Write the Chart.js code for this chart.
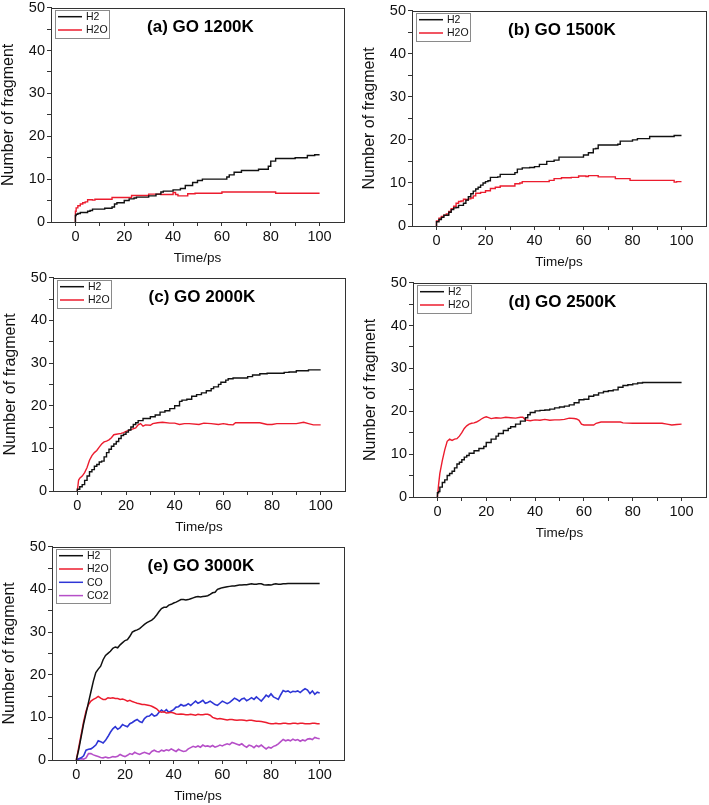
<!DOCTYPE html>
<html><head><meta charset="utf-8">
<script src="https://cdn.jsdelivr.net/npm/chart.js@4.4.1/dist/chart.umd.min.js"></script>
<style>
html,body{margin:0;padding:0;background:#fff;width:709px;height:805px;overflow:hidden;position:relative}
canvas{position:absolute}
</style></head><body>
<canvas id="ca"></canvas><canvas id="cb"></canvas><canvas id="cc"></canvas><canvas id="cd"></canvas><canvas id="ce"></canvas>
<script>
// ---------- tick values ----------
const xTickVals = [0,10,20,30,40,50,60,70,80,90,100];
const yTickVals = [0,5,10,15,20,25,30,35,40,45,50];

// ---------- (a) GO 1200K ----------
const aH2T = [0,0.3,1,2,5,6,7,12,15,16,17,20,22,24,25,30,33,35,36,40,43,45,48,50,52,55,62,63,65,68,75,79,80,82,90,95,98,100];
const aH2  = [0,1.5,1.8,2.0,2.2,2.5,2.7,3.0,3.2,3.5,4.2,4.5,5.0,5.4,5.6,5.8,6.1,6.5,7.0,7.2,7.5,7.8,8.5,9.2,9.7,10.0,10.0,10.5,11.0,11.6,12.0,12.3,13.0,14.2,14.8,15.0,15.5,15.7];
const aH2OT = [0,0.3,1,2,3,4,5,7,8,15,23,30,35,40,41,42,46,49,60,82,89,100];
const aH2O  = [0,2.5,3.3,3.8,4.2,4.5,4.7,5.2,5.1,5.3,5.7,6.2,6.5,6.4,6.9,6.4,6.1,6.6,6.7,7.0,6.7,6.7];

// ---------- (b) GO 1500K ----------
const bH2T = [0,1,2,3,5,6,7,8,9,11,12,13,14,15,16,17,18,19,20,21,22,25,26,32,33,35,38,40,42,45,48,50,52,55,60,62,64,65,66,74,75,80,82,87,93,97,100];
const bH2  = [0,1.0,1.5,2.0,2.5,3.2,3.8,4.2,4.3,4.8,5.3,6.0,6.8,7.5,8.1,8.6,9.0,9.5,10.0,10.3,10.5,11.3,11.4,12.0,12.4,13.2,13.5,13.6,13.8,14.3,15.0,15.3,16.0,16.0,16.0,16.5,17.0,17.9,18.0,18.8,19.0,19.7,20.0,20.3,20.8,20.8,21.0];
const bH2OT = [0,1,2,3,4,5,6,7,8,9,10,11,12,13,14,15,16,18,20,22,24,26,32,34,35,46,48,51,55,58,61,62,66,73,79,97,98,100];
const bH2O  = [0,1.2,1.8,2.2,2.5,2.8,3.4,4.0,4.6,5.3,5.7,5.8,6.2,6.1,6.3,6.5,7.0,7.6,7.8,8.2,8.7,9.0,9.3,9.8,10.0,10.3,10.6,11.0,11.2,11.3,11.6,11.5,11.7,11.4,11.0,10.6,10.2,10.3];

// ---------- (c) GO 2000K ----------
const cH2T = [0,1,2,3,4,5,6,7,8,9,10,11,12,13,14,15,16,17,18,19,20,21,22,23,24,25,27,30,32,34,36,38,40,42,43,45,47,49,51,53,55,56,58,59,61,62,64,66,70,72,75,78,80,85,87,90,92,95,100];
const cH2  = [0,0.4,1.0,1.5,2.5,3.5,4.5,5.0,5.8,6.2,6.8,7.0,8.0,9.0,9.8,10.5,11.0,11.6,12.3,13.0,13.3,13.8,14.3,15.0,15.6,16.0,16.5,17.0,17.4,17.8,18.5,18.8,19.3,20.0,21.0,21.3,21.5,22.2,22.6,23.0,23.5,24.0,24.4,25.0,25.5,26.0,26.3,26.5,26.5,26.8,27.2,27.5,27.6,27.6,27.8,27.9,28.2,28.2,28.4];
const cH2OT = [0,0.5,1,2,3,4,5,6,7,8,9,10,11,12,13,14,15,16,18,19,20,22,24,25,26,27,28,30,31,33,35,38,40,42,44,46,50,52,55,58,60,62,64,65,70,75,78,80,82,86,90,93,95,97,100];
const cH2O  = [0,2.5,3.0,3.5,4.3,5.5,7.2,8.3,9.0,9.5,10.3,11.0,11.5,11.7,12.0,12.5,13.2,13.3,13.5,13.7,14.0,14.4,14.8,15.5,15.8,15.2,15.5,15.4,15.8,16.0,16.1,15.9,15.9,15.6,15.8,15.8,15.6,15.9,15.8,15.6,15.8,15.6,15.5,16.0,16.0,16.0,15.6,15.6,15.8,15.8,15.8,16.1,15.8,15.5,15.5];

// ---------- (d) GO 2500K ----------
const dH2T = [0,0.5,1,2,3,4,5,6,7,8,9,10,11,12,13,15,17,19,20,22,24,25,27,29,30,32,34,36,37,38,40,42,44,46,48,50,52,54,56,58,60,62,64,66,68,70,72,74,76,78,80,82,84,86,100];
const dH2  = [0,1.0,1.3,2.3,3.4,4.0,5.0,5.5,6.0,6.8,7.7,8.1,8.7,9.3,9.7,10.2,10.8,11.3,11.8,12.7,13.5,14.2,14.8,15.5,16.0,16.4,17.0,17.7,18.5,19.2,19.7,20.1,20.2,20.3,20.5,20.8,21.0,21.2,21.5,22.0,22.7,22.8,23.5,23.8,24.3,24.6,24.8,25.0,25.6,26.0,26.2,26.4,26.6,26.7,26.7];
const dH2OT = [0,0.5,1,2,3,4,5,6,7,8,9,10,11,12,13,14,15,16,17,18,19,20,21,22,24,26,28,30,32,34,35,36,38,40,42,44,46,48,50,52,54,56,57,58,59,60,62,64,65,67,70,75,76,80,85,90,92,94,96,98,100];
const dH2O  = [0,3.0,5.5,8.5,11.0,13.0,13.5,13.2,13.5,13.6,14.2,15.0,16.0,16.6,17.0,17.2,17.3,17.5,17.8,18.2,18.5,18.7,18.5,18.3,18.5,18.4,18.6,18.5,18.4,18.6,18.6,18.0,17.8,18.0,17.9,18.1,17.9,18.0,18.0,18.1,18.4,18.3,18.2,17.9,17.0,16.8,16.8,16.8,17.2,17.5,17.5,17.5,17.3,17.2,17.2,17.2,17.2,17.0,16.8,16.9,17.0];

// ---------- (e) GO 3000K ----------
const eTime = [0,1,2,3,4,5,6,7,8,9,10,11,12,13,14,15,16,17,18,19,20,21,22,23,24,25,26,27,28,29,30,31,32,33,34,35,36,37,38,39,40,41,42,43,44,45,46,47,48,49,50,51,52,53,54,55,56,57,58,59,60,61,62,63,64,65,66,67,68,69,70,71,72,73,74,75,76,77,78,79,80,81,82,83,84,85,86,87,88,89,90,91,92,93,94,95,96,97,98,99,100];
const eH2 = [0,2.5,5.5,8.5,11,13.5,16,18.5,20.5,21.3,22,23.5,24.5,25,25.5,26.2,26.5,26.3,27,27.5,28,28.2,29,30,30.3,30.5,30.8,31.3,31.8,32.2,32.5,32.8,33.3,34,34.8,35.5,35.8,35.8,36.3,36.5,36.8,37,37.3,37.6,37.6,37.5,37.6,37.8,38,38.2,38.3,38.2,38.3,38.4,38.5,38.8,39.2,39.3,40,40.2,40.4,40.5,40.6,40.7,40.8,40.8,40.9,41,41,41.1,41.1,41.2,41.3,41.2,41.2,41.3,41.3,41.1,41,41.1,41,41.2,41.3,41.2,41.2,41.3,41.3,41.4,41.4,41.4,41.4,41.4,41.4,41.4,41.4,41.4,41.4,41.4,41.4,41.4,41.4];
const eH2O = [0,3,6,9,11.5,13,13.8,14.2,14.5,14.9,14.5,14.2,14.2,14.6,14.5,14.6,14.4,14.4,14.2,14.3,14.1,13.8,14,13.7,13.5,13.3,13.2,13,13,12.9,12.8,12.6,12.3,12,11.4,11.2,11.3,11,11.1,11.2,11,10.8,10.7,10.8,10.7,10.6,10.6,10.7,10.6,10.5,10.7,10.6,10.6,10.7,10.7,10.5,10,9.8,9.6,9.7,9.6,9.5,9.4,9.5,9.5,9.4,9.3,9.4,9.4,9.3,9.2,9.3,9.3,9.2,9.1,9.1,9.0,8.9,8.8,8.6,8.5,8.5,8.6,8.5,8.5,8.6,8.6,8.5,8.5,8.6,8.6,8.5,8.6,8.6,8.5,8.5,8.5,8.6,8.6,8.5,8.5];
const eCO = [0,0.3,0.5,1,2.3,2.5,2.6,3,3.5,4.5,4.3,4,4.6,5.5,6.5,7.3,7.8,7.2,7.6,8.3,8,7.8,8.5,8.8,9.2,9.5,9,8.8,9.7,10.2,10.3,10.8,10.3,10.5,11.2,11.7,11.3,11.8,11.2,11.5,11.8,12.4,12.5,13,12.7,12.8,13.2,12.8,13.3,13.8,13.3,13.6,14,13.3,13.5,13.8,13.4,13,12.8,13.3,13.8,13.5,13.2,13.5,14,14.5,14.2,13.8,14.3,14.5,13.9,14.2,14.6,14.2,14.8,14.3,13.8,14.5,15.2,14.8,15.5,14.8,14.5,14.2,15.3,16.3,16,16.2,15.8,16.1,16,16.2,15.8,16.3,16.7,16.4,15.6,16.2,15.4,15.9,15.7];
const eCO2 = [0,0.2,0.3,0.2,0.5,1.5,1.5,1.2,1,0.8,0.6,0.5,0.7,0.5,0.6,0.8,0.7,0.9,1.3,1.0,0.8,1.1,1.5,1.3,1.8,1.5,1.3,1.6,1.8,1.6,1.4,2,2.3,2.0,1.9,2.3,2.1,2.4,2.2,2.6,2.3,2.0,2.5,2.2,2.0,2.1,2.6,2.9,3.2,3,3.3,3.0,3.5,3.2,3.3,3.1,3.4,3,3.2,3.5,3.3,3.6,3.8,3.6,4.1,3.9,3.7,3.5,3.8,3.3,3.0,3.5,3.3,2.9,3.4,3.1,3.5,3.0,2.6,3.0,2.8,3.2,3.4,3.8,4.3,4.8,4.5,4.7,4.5,4.9,4.6,4.8,4.4,4.7,4.5,4.9,5.0,4.8,5.3,5.1,5.0];

// ---------- styling / layout ----------
const FONT = "'Liberation Sans', Arial, Helvetica, sans-serif";
Chart.defaults.font.family = FONT;
Chart.defaults.color = '#111';
const COL = {H2:'#111111', H2O:'#ec1c2e', CO:'#2e36d6', CO2:'#b64fc8'};
const AXC = '#333333';

function pts(t, v){ return t.map((x,i)=>({x:x, y:v[i]})); }

const deco = {
  id:'deco',
  afterDatasetsDraw(chart, args, o){
    const ctx = chart.ctx, ca = chart.chartArea;
    ctx.save();
    // frame
    ctx.strokeStyle = AXC; ctx.lineWidth = 1;
    ctx.strokeRect(Math.round(ca.left)+0.5, Math.round(ca.top)+0.5, Math.round(ca.right-ca.left), Math.round(ca.bottom-ca.top));
    // legend
    const ds = chart.data.datasets, rowH = 13.3;
    const bx = Math.round(ca.left)+4.5, by = Math.round(ca.top)+2.5, bw = 54, bh = Math.round(ds.length*rowH+1);
    ctx.fillStyle = '#fff'; ctx.fillRect(bx,by,bw,bh);
    ctx.strokeStyle = '#8a8a8a'; ctx.strokeRect(bx,by,bw,bh);
    ctx.font = '10.5px ' + FONT; ctx.textBaseline = 'middle'; ctx.textAlign = 'left';
    ds.forEach((d,i)=>{
      const y = ca.top + 9 + i*rowH;
      ctx.strokeStyle = d.borderColor; ctx.lineWidth = 1.5;
      ctx.beginPath(); ctx.moveTo(ca.left+7, y); ctx.lineTo(ca.left+31, y); ctx.stroke();
      ctx.fillStyle = '#111'; ctx.fillText(d.label, ca.left+35, y+0.5);
    });
    // panel title
    ctx.font = 'bold 17px ' + FONT; ctx.textAlign = 'center'; ctx.fillStyle = '#000';
    ctx.fillText(o.title, ca.left + 0.51*(ca.right-ca.left), ca.top + 20);
    ctx.restore();
  }
};

const YW = 52, PT = 10, XH = 44, PR = 4;

function makePanel(id, title, L, T, R, B, sets){
  const cv = document.getElementById(id);
  const left = L - YW, top = T - PT;
  cv.width = R - L + YW + PR; cv.height = B - T + PT + XH;
  cv.style.left = left + 'px'; cv.style.top = top + 'px';
  new Chart(cv, {
    type:'line',
    data:{ datasets: sets.map(s=>({
      label:s.label, data:pts(s.t, s.v), borderColor:COL[s.label], backgroundColor:COL[s.label],
      borderWidth:s.w || 1.4, pointRadius:0, tension:0, stepped: s.step ? 'after' : false, fill:false
    }))},
    options:{
      responsive:false, animation:false, devicePixelRatio:1, events:[],
      layout:{ padding:{ top:PT, right:PR, left:0, bottom:0 } },
      plugins:{ legend:{display:false}, tooltip:{enabled:false}, deco:{ title:title } },
      scales:{
        x:{ type:'linear', min:-10, max:110,
            afterBuildTicks:s=>{ s.ticks = xTickVals.map(v=>({value:v})); },
            afterFit:s=>{ s.height = XH; },
            ticks:{ autoSkip:false, maxRotation:0, padding:2, font:{size:14.5}, color:'#111',
                    callback:v=> v % 20 === 0 ? String(v) : '' },
            grid:{ drawOnChartArea:false, drawTicks:true, tickLength:4, color:AXC },
            border:{ display:true, color:AXC, width:1 },
            title:{ display:true, text:'Time/ps', font:{size:13.5}, color:'#111', padding:0 } },
        y:{ type:'linear', min:0, max:50,
            afterBuildTicks:s=>{ s.ticks = yTickVals.map(v=>({value:v})); },
            afterFit:s=>{ s.width = YW; },
            ticks:{ autoSkip:false, padding:2, font:{size:14.5}, color:'#111',
                    callback:v=> v % 10 === 0 ? String(v) : '' },
            grid:{ drawOnChartArea:false, drawTicks:true, tickLength:4, color:AXC },
            border:{ display:true, color:AXC, width:1 },
            title:{ display:true, text:'Number of fragment', font:{size:16}, color:'#111', padding:0 } }
      }
    },
    plugins:[deco]
  });
}

makePanel('ca','(a) GO 1200K', 51, 7, 344, 222, [
  {label:'H2', t:aH2T, v:aH2, step:true},
  {label:'H2O', t:aH2OT, v:aH2O, step:true}
]);
makePanel('cb','(b) GO 1500K', 412, 10, 706, 226, [
  {label:'H2', t:bH2T, v:bH2, step:true},
  {label:'H2O', t:bH2OT, v:bH2O, step:true}
]);
makePanel('cc','(c) GO 2000K', 53, 277, 345, 491, [
  {label:'H2', t:cH2T, v:cH2, step:true},
  {label:'H2O', t:cH2OT, v:cH2O}
]);
makePanel('cd','(d) GO 2500K', 413, 282, 706, 497, [
  {label:'H2', t:dH2T, v:dH2, step:true},
  {label:'H2O', t:dH2OT, v:dH2O}
]);
makePanel('ce','(e) GO 3000K', 52, 546, 344, 760, [
  {label:'H2', t:eTime, v:eH2, w:1.5},
  {label:'H2O', t:eTime, v:eH2O, w:1.5},
  {label:'CO', t:eTime, v:eCO, w:1.6},
  {label:'CO2', t:eTime, v:eCO2, w:1.6}
]);
</script>
</body></html>
